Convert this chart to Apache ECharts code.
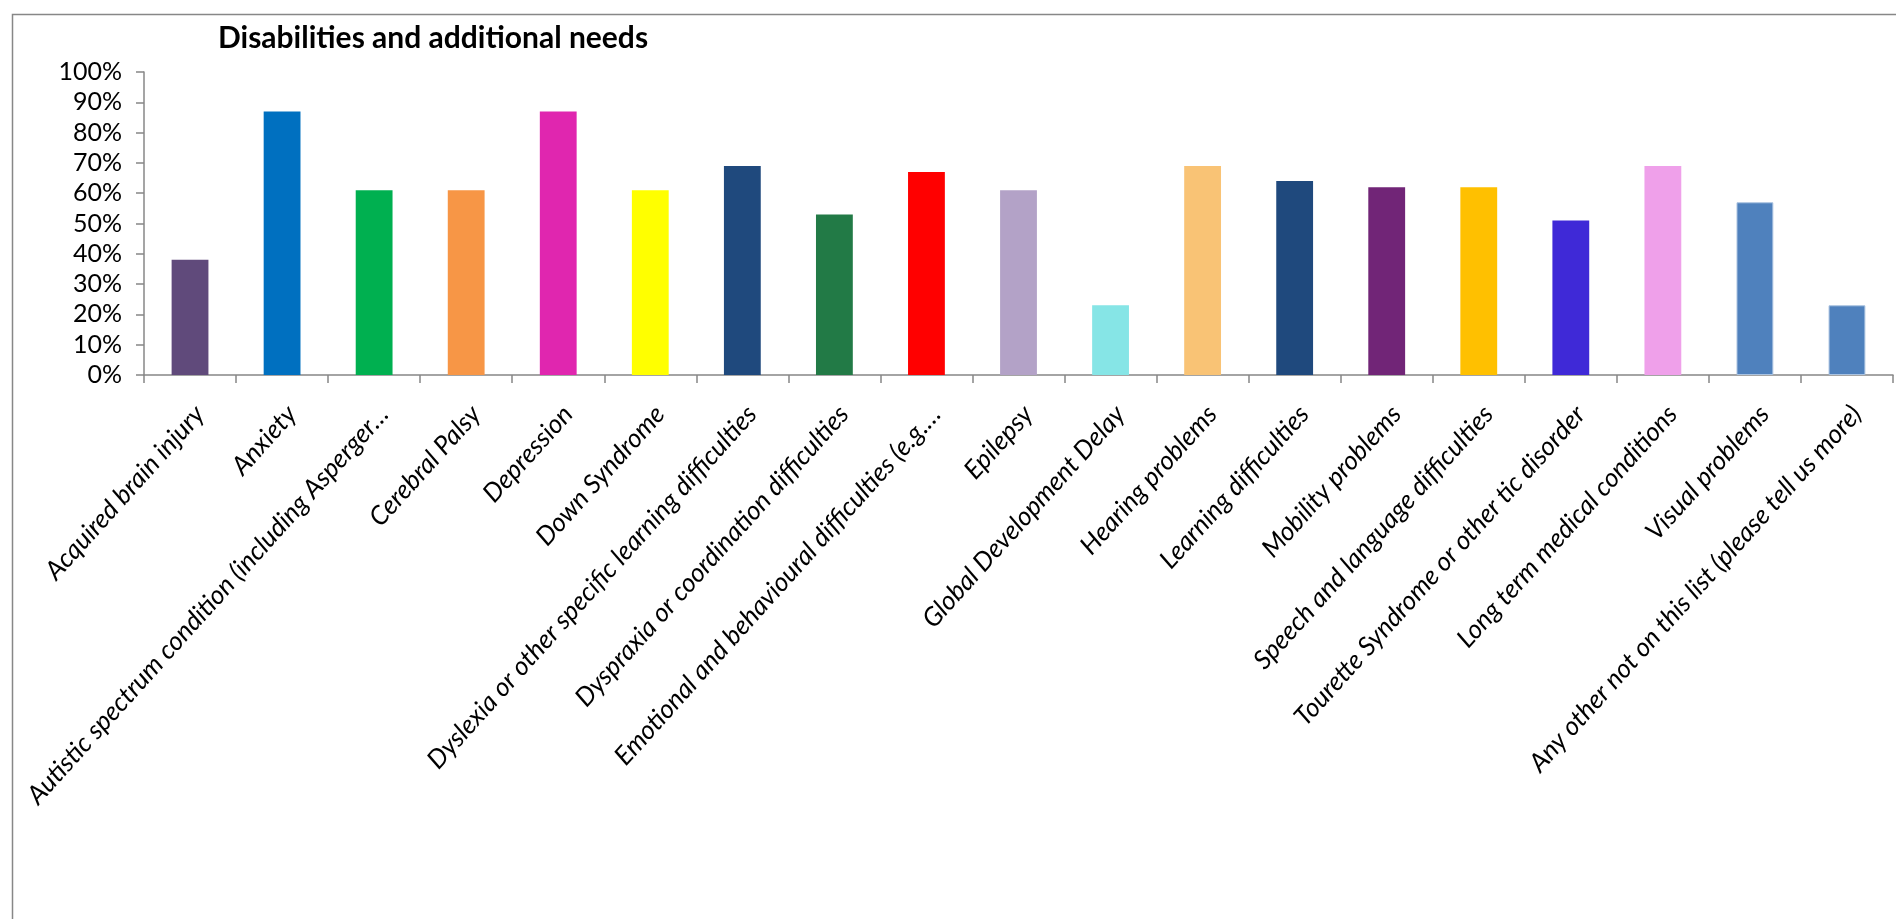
<!DOCTYPE html>
<html>
<head>
<meta charset="utf-8">
<title>Disabilities and additional needs</title>
<script src="https://cdn.jsdelivr.net/npm/echarts@6/dist/echarts.min.js"></script>
<style>
  html, body { margin: 0; padding: 0; background: #ffffff; }
  #chart { width: 1896px; height: 919px; }
</style>
</head>
<body>
<div id="chart"></div>
<script>
// Survey categories, in the order they appear on the axis
const categories = [
  'Acquired brain injury',
  'Anxiety',
  'Autistic spectrum condition (including Asperger…',
  'Cerebral Palsy',
  'Depression',
  'Down Syndrome',
  'Dyslexia or other specific learning difficulties',
  'Dyspraxia or coordination difficulties',
  'Emotional and behavioural difficulties (e.g.…',
  'Epilepsy',
  'Global Development Delay',
  'Hearing problems',
  'Learning difficulties',
  'Mobility problems',
  'Speech and language difficulties',
  'Tourette Syndrome or other tic disorder',
  'Long term medical conditions',
  'Visual problems',
  'Any other not on this list (please tell us more)'
];

// Share of respondents for each category (fraction of 1)
const shares = [
  0.38, 0.87, 0.61, 0.61, 0.87, 0.61, 0.69, 0.53, 0.67, 0.61,
  0.23, 0.69, 0.64, 0.62, 0.62, 0.51, 0.69, 0.57, 0.23
];

// One fill per bar
const barColors = [
  '#604A7B', '#0070C0', '#00B050', '#F79646', '#E026AF', '#FFFF00',
  '#1F497D', '#227A46', '#FF0000', '#B3A2C7', '#86E5E6', '#F9C375',
  '#1F497D', '#712577', '#FFC000', '#3F29D7', '#EFA0EA', '#4F81BD',
  '#4F81BD'
];

// Value-axis tick labels, 0% to 100%
const yTickLabels = ['0%', '10%', '20%', '30%', '40%', '50%', '60%', '70%', '80%', '90%', '100%'];

const axisGrey = '#878787';
const labelFont = 'Lato, "Open Sans", sans-serif';

const chart = echarts.init(document.getElementById('chart'), null, { renderer: 'canvas' });

chart.setOption({
  backgroundColor: '#ffffff',
  animation: false,
  title: {
    text: 'Disabilities and additional needs',
    left: 213,
    top: 18,
    textStyle: {
      fontFamily: labelFont,
      fontWeight: 'bold',
      fontSize: 30,
      color: '#000000'
    }
  },
  graphic: [{
    // Chart-area frame (its right and bottom edges sit past the page)
    type: 'rect',
    left: 10,
    top: 12,
    shape: { width: 1910, height: 940 },
    style: { fill: 'none', stroke: axisGrey, lineWidth: 1.5 },
    silent: true,
    z: -1
  }],
  grid: {
    left: 144,
    right: 3,
    top: 72,
    bottom: 544,
    containLabel: false
  },
  xAxis: {
    type: 'category',
    data: categories,
    axisLine: { show: true, lineStyle: { color: axisGrey, width: 1.5 } },
    axisTick: { show: true, length: 8, lineStyle: { color: axisGrey, width: 1.5 } },
    axisLabel: {
      interval: 0,
      rotate: 48,
      margin: 26,
      align: 'right',
      verticalAlign: 'top',
      fontFamily: labelFont,
      fontStyle: 'italic',
      fontSize: 26,
      color: '#000000'
    },
    splitLine: { show: false }
  },
  yAxis: {
    type: 'value',
    min: 0,
    max: 1,
    interval: 0.1,
    axisLine: { show: true, lineStyle: { color: axisGrey, width: 1.5 } },
    axisTick: { show: true, length: 8, lineStyle: { color: axisGrey, width: 1.5 } },
    axisLabel: {
      margin: 22,
      fontFamily: labelFont,
      fontSize: 25,
      color: '#000000',
      formatter: function (v) {
        return yTickLabels[Math.round(v * 10)];
      }
    },
    splitLine: { show: false }
  },
  series: [{
    type: 'bar',
    data: shares.map(function (v, i) {
      const item = { value: v, itemStyle: { color: barColors[i] } };
      if (i >= 17) {
        item.itemStyle.borderColor = '#A9C2E0';
        item.itemStyle.borderWidth = 1;
      }
      return item;
    }),
    barWidth: '40%'
  }]
});
</script>
</body>
</html>
